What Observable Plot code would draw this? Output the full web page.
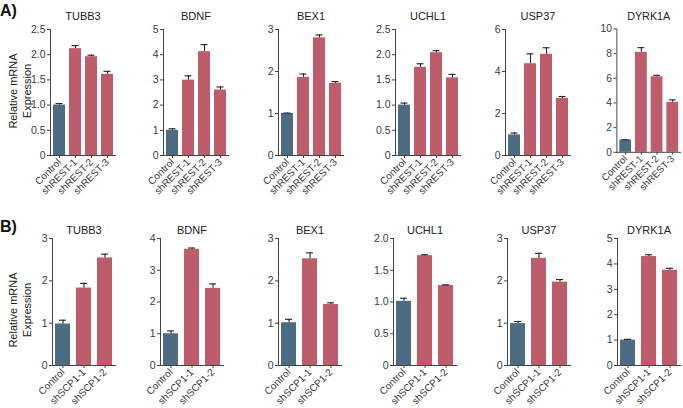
<!DOCTYPE html>
<html>
<head>
<meta charset="utf-8">
<script src="https://cdn.jsdelivr.net/npm/d3@7"></script>
<script src="https://cdn.jsdelivr.net/npm/@observablehq/plot@0.6"></script>
<style>
  html, body { margin: 0; padding: 0; background: #fff; }
  #root { position: relative; width: 683px; height: 408px; overflow: hidden; font-family: "Liberation Sans", Arial, sans-serif; }
  .panel { position: absolute; }
</style>
</head>
<body>
<div id="root"></div>
<script>
// ---------- data ----------
const genes = ["TUBB3", "BDNF", "BEX1", "UCHL1", "USP37", "DYRK1A"];
const catsA = ["Control", "shREST-1", "shREST-2", "shREST-3"];
const catsB = ["Control", "shSCP1-1", "shSCP1-2"];

// Row A (shREST) means and error (upper SEM)
const meansA = [
  [1.00, 2.12, 1.96, 1.61],
  [1.00, 2.99, 4.12, 2.60],
  [1.00, 1.86, 2.80, 1.72],
  [1.00, 1.75, 2.04, 1.54],
  [0.98, 4.37, 4.82, 2.72],
  [1.00, 8.10, 6.12, 4.05]
];
const errsA = [
  [0.03, 0.06, 0.03, 0.06],
  [0.06, 0.17, 0.28, 0.12],
  [0.01, 0.08, 0.07, 0.04],
  [0.04, 0.07, 0.04, 0.07],
  [0.09, 0.47, 0.31, 0.09],
  [0.01, 0.38, 0.12, 0.20]
];
// Row B (shSCP1)
const meansB = [
  [0.98, 1.83, 2.54],
  [1.00, 3.66, 2.43],
  [1.01, 2.52, 1.44],
  [1.01, 1.73, 1.26],
  [0.99, 2.53, 1.97],
  [1.00, 4.29, 3.75]
];
const errsB = [
  [0.09, 0.11, 0.09],
  [0.09, 0.04, 0.14],
  [0.08, 0.14, 0.04],
  [0.05, 0.015, 0.01],
  [0.05, 0.12, 0.06],
  [0.03, 0.07, 0.08]
];
const ticksA = [
  [0, 0.5, 1.0, 1.5, 2.0, 2.5],
  [0, 1, 2, 3, 4, 5],
  [0, 1, 2, 3],
  [0, 0.5, 1.0, 1.5, 2.0, 2.5],
  [0, 2, 4, 6],
  [0, 2, 4, 6, 8, 10]
];
const ticksB = [
  [0, 1, 2, 3],
  [0, 1, 2, 3, 4],
  [0, 1, 2, 3],
  [0, 0.5, 1.0, 1.5, 2.0],
  [0, 1, 2, 3],
  [0, 1, 2, 3, 4, 5]
];
const yLabelLines = ["Relative mRNA", "Expression"];
const rowLabels = ["A)", "B)"];

// ---------- style / layout ----------
const BLUE = "#4b6c83";
const RED = "#be5c6b";
const FONT = "'Liberation Sans', Arial, sans-serif";
const ML = 30, MR = 3;
const axisXA = [50, 163, 278, 395, 505, 617];
const axisXB = [52, 160, 278, 393, 507, 617];

const rowA = { top: 0, H: 203, MT: 29, MB: 48, frameW: 65, pi: 0.25, po: 0.12, cap: 2.5, titleDy: -17 };
const rowB = { top: 196, H: 212, MT: 42, MB: 43, frameW: 63, pi: 0.27, po: 0.1, cap: 4, titleDy: -12 };

function panel(gene, cats, vals, errs, ticks, o) {
  const data = cats.map((c, i) => ({ cat: c, v: vals[i], top: vals[i] + errs[i], ctrl: i === 0 }));
  const frac = ticks.some(t => !Number.isInteger(t));
  const fmt = d => (d === 0 ? "0" : frac ? d.toFixed(1) : String(d));
  return Plot.plot({
    width: ML + o.frameW + MR,
    height: o.H,
    marginLeft: ML, marginRight: MR, marginTop: o.MT, marginBottom: o.MB,
    style: { fontFamily: FONT, fontSize: "10.5px", color: "#3a3a3a", background: "transparent", overflow: "visible" },
    x: { domain: cats, paddingInner: o.pi, paddingOuter: o.po, label: null },
    y: { domain: [0, ticks[ticks.length - 1]], label: null },
    marks: [
      Plot.barY(data.filter(d => d.ctrl), { x: "cat", y: "v", fill: BLUE }),
      Plot.barY(data.filter(d => !d.ctrl), { x: "cat", y: "v", fill: RED }),
      Plot.ruleX(data, { x: "cat", y1: "v", y2: "top", stroke: "#222", strokeWidth: 1.1 }),
      Plot.tickY(data, { x: "cat", y: "top", stroke: "#222", strokeWidth: 1.1, insetLeft: o.cap, insetRight: o.cap }),
      Plot.frame({ anchor: "left", stroke: "#444" }),
      Plot.frame({ anchor: "bottom", stroke: "#444" }),
      Plot.axisY({ ticks, tickFormat: fmt, tickSize: 3, tickPadding: 2, label: null, stroke: "#444" }),
      Plot.axisX({ tickRotate: -45, tickSize: 3, tickPadding: 2, fontSize: 10, label: null, stroke: "#444" }),
      Plot.text([gene], { frameAnchor: "top", dy: o.titleDy, fontSize: 11, fill: "#222" })
    ]
  });
}

const root = document.getElementById("root");
function place(el, left, top) {
  const d = document.createElement("div");
  d.className = "panel";
  d.style.left = left + "px";
  d.style.top = top + "px";
  d.appendChild(el);
  root.appendChild(d);
}

genes.forEach((g, i) => {
  place(panel(g, catsA, meansA[i], errsA[i], ticksA[i], rowA), axisXA[i] - ML, rowA.top);
  place(panel(g, catsB, meansB[i], errsB[i], ticksB[i], rowB), axisXB[i] - ML, rowB.top);
});

// overlay labels (row labels and y-axis titles)
const svgNS = "http://www.w3.org/2000/svg";
const ov = document.createElementNS(svgNS, "svg");
ov.setAttribute("width", 683);
ov.setAttribute("height", 408);
ov.style.position = "absolute";
ov.style.left = "0px";
ov.style.top = "0px";
ov.style.pointerEvents = "none";
ov.style.fontFamily = FONT;
function addText(txt, x, y, attrs) {
  const t = document.createElementNS(svgNS, "text");
  t.textContent = txt;
  t.setAttribute("x", x);
  t.setAttribute("y", y);
  for (const k in attrs) t.setAttribute(k, attrs[k]);
  ov.appendChild(t);
}
addText(rowLabels[0], 0, 16, { "font-size": 16, "font-weight": "bold", fill: "#111" });
addText(rowLabels[1], 0, 232, { "font-size": 16, "font-weight": "bold", fill: "#111" });
[91, 310].forEach(cy => {
  addText(yLabelLines[0], 0, 0, { "font-size": 11, fill: "#222", "text-anchor": "middle", transform: `translate(16.5,${cy}) rotate(-90)` });
  addText(yLabelLines[1], 0, 0, { "font-size": 11, fill: "#222", "text-anchor": "middle", transform: `translate(30.5,${cy}) rotate(-90)` });
});
root.appendChild(ov);
</script>
</body>
</html>
